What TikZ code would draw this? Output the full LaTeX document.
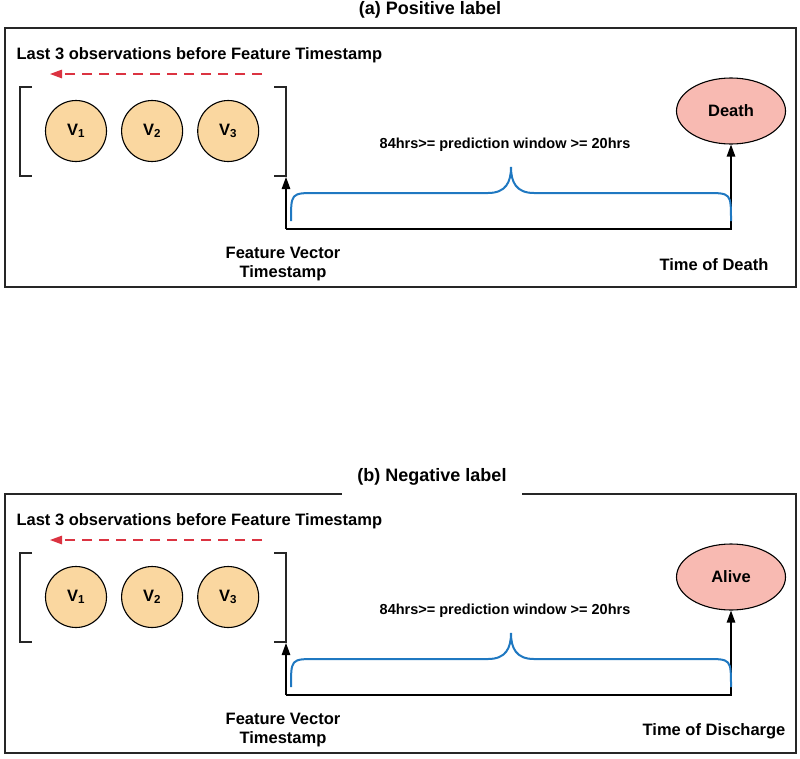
\documentclass[tikz,border=0pt]{standalone}
\usepackage{fontspec}
\setmainfont{Liberation Sans}
\usepackage{xcolor}
\usepackage{tikz}
\usetikzlibrary{shapes.geometric,arrows.meta,positioning}
\definecolor{obsfill}{HTML}{FAD7A0}
\definecolor{outfill}{HTML}{F8BAB2}
\definecolor{bracecol}{HTML}{1F78C1}
\definecolor{lookred}{HTML}{DB3341}

\begin{document}
\begin{tikzpicture}[x=1pt, y=-1pt,
    panel/.style={draw=black!85, line width=1.3pt},
    paneltitle/.style={font=\fontsize{18}{20}\selectfont\bfseries, inner xsep=15pt},
    note/.style={font=\fontsize{16.5}{19}\selectfont\bfseries, align=center},
    windownote/.style={font=\fontsize{14.5}{17}\selectfont\bfseries},
    obs/.style={circle, minimum size=61pt, inner sep=0pt, draw=black, line width=1.1pt, fill=obsfill, font=\fontsize{16.5}{19}\selectfont\bfseries},
    outcome/.style={ellipse, minimum width=109pt, minimum height=66pt, inner sep=0pt, draw=black, line width=1.1pt, fill=outfill, font=\fontsize{16.5}{19}\selectfont\bfseries},
    bracket/.style={line width=1.2pt, black!85},
    arrow/.style={-{Triangle[length=12pt,width=8.5pt]}, line width=1.2pt},
    lookback/.style={-{Triangle[length=12pt,width=8.5pt]}, dash pattern=on 10pt off 7pt, line width=1.3pt, lookred},
    window/.style={line width=2pt, bracecol}
]
\useasboundingbox (0,0) rectangle (800,758);
% TOP PANEL: Positive label
\begin{scope}
    \draw[panel] (5,28) rectangle (796,287);
    \node[paneltitle] (ttla) at (430,10) {(a) Positive label};
    \node[note, anchor=west] (lasta) at (13,55) {Last 3 observations before Feature Timestamp};
    \coordinate (lookstarta) at (262,74);
    \coordinate (lookenda) at (50,74);
    \draw[lookback] (lookstarta) -- (lookenda);
    \draw[bracket] (32,87) -- (20,87) -- (20,176) -- (32,176);
    \draw[bracket] (274,87) -- (286,87) -- (286,176) -- (274,176);
    \node[obs] (v1a) at (76,131) {V\textsubscript{1}};
    \node[obs, right=14pt of v1a] (v2a) {V\textsubscript{2}};
    \node[obs, right=14pt of v2a] (v3a) {V\textsubscript{3}};
    \node[outcome] (deatha) at (731,111) {Death};
    \coordinate (fva) at (286,229);
    \coordinate (bra) at (286,177);
    \draw[arrow] (fva) -- (bra);
    \draw[arrow] (fva) -| (deatha.south);
    \draw[window] (291,221) .. controls (291,193) .. (316,193) -- (488,193)
        .. controls (506,193) and (511,182) .. (511,167)
        .. controls (511,182) and (516,193) .. (534,193) -- (706,193)
        .. controls (731,193) .. (731,221);
    \node[windownote] (wina) at (505,145) {84hrs>= prediction window >= 20hrs};
    \node[note] (fvtxta) at (283,264) {Feature Vector\\Timestamp};
    \node[note] (todtxta) at (714,265) {Time of Death};
\end{scope}
% BOTTOM PANEL: Negative label
\begin{scope}[shift={(0,466)}]
    \draw[panel] (5,28) rectangle (796,287);
    \node[paneltitle, fill=white, minimum height=40pt] (ttlb) at (432,11) {(b) Negative label};
    \node[note, anchor=west] (lastb) at (13,55) {Last 3 observations before Feature Timestamp};
    \coordinate (lookstartb) at (262,74);
    \coordinate (lookendb) at (50,74);
    \draw[lookback] (lookstartb) -- (lookendb);
    \draw[bracket] (32,87) -- (20,87) -- (20,176) -- (32,176);
    \draw[bracket] (274,87) -- (286,87) -- (286,176) -- (274,176);
    \node[obs] (v1b) at (76,131) {V\textsubscript{1}};
    \node[obs, right=14pt of v1b] (v2b) {V\textsubscript{2}};
    \node[obs, right=14pt of v2b] (v3b) {V\textsubscript{3}};
    \node[outcome] (aliveb) at (731,111) {Alive};
    \coordinate (fvb) at (286,229);
    \coordinate (brb) at (286,177);
    \draw[arrow] (fvb) -- (brb);
    \draw[arrow] (fvb) -| (aliveb.south);
    \draw[window] (291,221) .. controls (291,193) .. (316,193) -- (488,193)
        .. controls (506,193) and (511,182) .. (511,167)
        .. controls (511,182) and (516,193) .. (534,193) -- (706,193)
        .. controls (731,193) .. (731,221);
    \node[windownote] (winb) at (505,145) {84hrs>= prediction window >= 20hrs};
    \node[note] (fvtxtb) at (283,264) {Feature Vector\\Timestamp};
    \node[note] (todtxtb) at (714,265) {Time of Discharge};
\end{scope}
\end{tikzpicture}
\end{document}
